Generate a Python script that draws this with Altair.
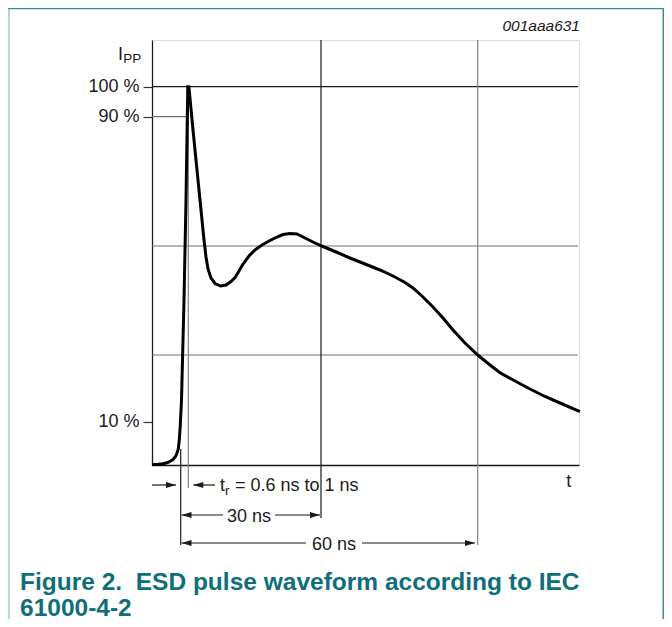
import altair as alt
import pandas as pd

# ---------------- data --------------------------------------
# Diagram units: pixels to the right of / above the axes origin.
curve_x = [0, 6, 11, 15, 18, 21, 23.5, 25, 26.3, 27.3, 28.3, 29.5, 32, 34, 35.8,
           36.9, 41, 45, 49, 52, 54, 56, 59, 63, 68.7, 74, 79, 83, 87, 91, 97,
           103, 110, 118, 125, 131, 138, 145, 153, 161, 169.7, 183, 198, 213,
           228, 243, 253, 261, 271, 281, 291, 301, 313, 325.7, 338, 348, 363,
           378, 393, 408, 428]
curve_y = [0.5, 0.7, 1.2, 2.2, 3.5, 5.5, 8.5, 12, 16, 25, 40, 65, 165, 265,
           378.3, 378.3, 335, 295, 255, 225, 208, 196, 187, 181.5, 179, 180,
           183.5, 187.5, 194, 201, 209, 215, 220, 224.5, 228, 230.5, 231.5,
           231, 227, 223, 219, 213.5, 207, 201, 195, 188, 182.5, 177, 168,
           158, 147, 135, 122, 110, 100, 92.3, 84, 76, 68.5, 62, 53.3]

# y-axis ticks (as drawn) and their labels
ytick_pos = [378.3, 348.3, 43.3]
ytick_text = ["100 %", "90 %", "10 %"]

# horizontal reference lines
hline_y = [378.3, 348.3, 219, 110]
hline_x1 = [0, 0, 0, 0]
hline_x2 = [426, 36.3, 426, 426]
hline_col = ["#1a1a1a", "#707070", "#707070", "#707070"]

# vertical reference lines
vline_x = [28.7, 36.3, 169, 325.7]
vline_y1 = [16, 378.3, 425, 425]
vline_y2 = [-80, -23, -53, -80]
vline_col = ["#1a1a1a", "#808080", "#1a1a1a", "#808080"]

# dimension-line segments
dim_x1 = [0, 41.3, 29.5, 123, 29.5, 210]
dim_x2 = [24, 63, 71, 168, 154, 323]
dim_y = [-20, -20, -50, -50, -78, -78]

# arrow heads (tip position, direction)
arrow_x = [24, 41.3, 29.5, 168, 29.5, 323]
arrow_y = [-20, -20, -50, -50, -78, -78]
arrow_dir = ["right", "left", "left", "right", "left", "right"]

# annotation texts
FONT = "Liberation Sans"
INK = "#1a1a1a"
TEAL = "#0e6f7b"
texts = [
    # x, y, text, align, size, weight, style, colour
    (-29, 405.5, "I", "right", 18, "normal", "normal", INK),
    (-28.7, 401.7, "PP", "left", 13.5, "normal", "normal", INK),
    (416.7, -21.5, "t", "center", 18, "normal", "normal", INK),
    (68, -26, "t", "left", 18, "normal", "normal", INK),
    (73, -30, "r", "left", 13.5, "normal", "normal", INK),
    (83, -26, "= 0.6 ns to 1 ns", "left", 18, "normal", "normal", INK),
    (97, -56.5, "30 ns", "center", 18, "normal", "normal", INK),
    (182, -84.5, "60 ns", "center", 18, "normal", "normal", INK),
    (428, 434, "001aaa631", "right", 15.5, "normal", "italic", INK),
    (-132, -124.5, "Figure 2.\u00a0 ESD pulse waveform according to IEC", "left", 24.5, "bold", "normal", TEAL),
    (-132, -150.5, "61000-4-2", "left", 24.5, "bold", "normal", TEAL),
]

# page frame (left light rule, top and right teal rules)
frame_col = ["#b3d5d9", "#3c8d97", "#3c8d97"]

# ---------------- chart -----------------
W, H = 427, 425
xs = alt.Scale(domain=[0, W], nice=False, zero=False)
ys = alt.Scale(domain=[0, H], nice=False, zero=False)
x_axis = alt.Axis(title=None, ticks=False, labels=False, grid=False,
                  domainColor=INK, domainWidth=1.3)
y_axis = alt.Axis(title=None, values=ytick_pos, grid=False, tickSize=9,
                  tickColor="#333333", tickWidth=1.2, domainColor=INK,
                  domainWidth=1.3, labelFont=FONT, labelFontSize=18,
                  labelColor=INK, labelPadding=4,
                  labelExpr="datum.value > 370 ? '100 %' : (datum.value > 300 ? '90 %' : '10 %')")


def X(f):
    return alt.X(f, type="quantitative", scale=xs, axis=x_axis)


def Y(f):
    return alt.Y(f, type="quantitative", scale=ys, axis=y_axis)


curve_df = pd.DataFrame({"x": curve_x, "y": curve_y, "o": range(len(curve_x))})
hl_df = pd.DataFrame({"x1": hline_x1, "x2": hline_x2, "y": hline_y, "c": hline_col})
vl_df = pd.DataFrame({"x": vline_x, "y1": vline_y1, "y2": vline_y2, "c": vline_col})
dim_df = pd.DataFrame({"x1": dim_x1, "x2": dim_x2, "y": dim_y})
arr_df = pd.DataFrame({"x": arrow_x, "y": arrow_y, "d": arrow_dir})

layers = []

hl = alt.Chart(hl_df).mark_rule(strokeWidth=1.2).encode(
    x=X("x1"), x2="x2", y=Y("y"), color=alt.Color("c:N", scale=None))
vl = alt.Chart(vl_df).mark_rule(strokeWidth=1.2).encode(
    x=X("x"), y=Y("y1"), y2="y2", color=alt.Color("c:N", scale=None))
dims = alt.Chart(dim_df).mark_rule(strokeWidth=1.2, color=INK).encode(
    x=X("x1"), x2="x2", y=Y("y"))
right_heads = alt.Chart(arr_df[arr_df.d == "right"]).mark_point(
    shape="M0,0L-1,-0.3L-1,0.3Z", filled=True, size=400, opacity=1,
    color=INK, strokeWidth=0).encode(x=X("x"), y=Y("y"))
left_heads = alt.Chart(arr_df[arr_df.d == "left"]).mark_point(
    shape="M0,0L1,-0.3L1,0.3Z", filled=True, size=400, opacity=1,
    color=INK, strokeWidth=0).encode(x=X("x"), y=Y("y"))
curve = alt.Chart(curve_df).mark_line(
    color="#000000", strokeWidth=3, strokeJoin="miter", strokeMiterLimit=3).encode(
    x=X("x"), y=Y("y"), order="o:Q")

layers += [hl, vl, dims, right_heads, left_heads, curve]

for (tx, ty, tt, al, sz, wt, st, col) in texts:
    layers.append(
        alt.Chart(pd.DataFrame({"x": [tx], "y": [ty], "t": [tt]})).mark_text(
            align=al, baseline="alphabetic", font=FONT, fontSize=sz,
            fontWeight=wt, fontStyle=st, color=col).encode(
            x=X("x"), y=Y("y"), text="t:N"))

# page frame
frame_df = pd.DataFrame({"x": [-143.2, -145, 511.3], "x2": [-143.2, 511.3, 511.3],
                         "y": [458, 456.6, 458], "y2": [-170, 456.6, -170],
                         "c": frame_col, "w": [2.2, 1.6, 1.6]})
frame = alt.Chart(frame_df).mark_rule().encode(
    x=X("x"), x2="x2", y=Y("y"), y2="y2",
    color=alt.Color("c:N", scale=None),
    strokeWidth=alt.StrokeWidth("w:Q", scale=None))
layers.append(frame)

chart = alt.layer(*layers).properties(
    width=W, height=H,
    autosize=alt.AutoSizeParams(type="none"),
    padding={"left": 144, "top": 32, "right": 85, "bottom": 154},
).configure_view(stroke=None).configure(background="white")

chart.save("out.html", embed_options={"renderer": "svg", "actions": False})
